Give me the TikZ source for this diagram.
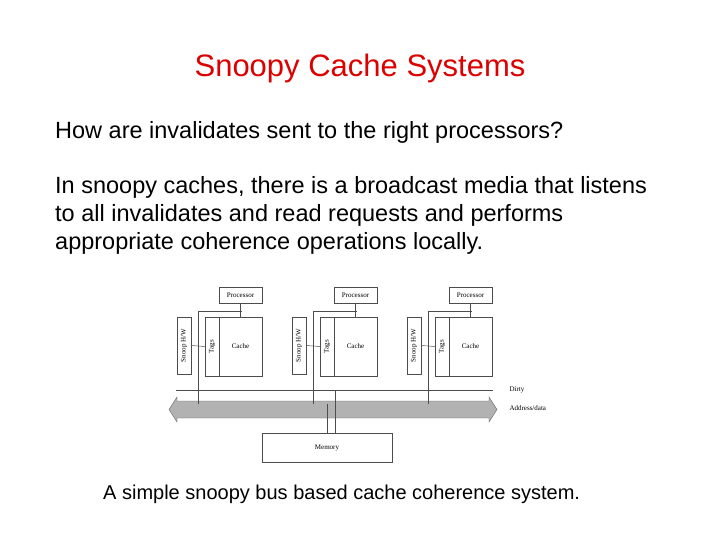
\documentclass[tikz,border=0pt]{standalone}
\usepackage{fontspec}
\setmainfont{Liberation Sans}
\newfontfamily\diag{Liberation Serif}
\usetikzlibrary{arrows.meta}
\definecolor{ttl}{RGB}{220,0,0}
\begin{document}
\begin{tikzpicture}[x=1pt,y=-1pt,
  box/.style={draw=black!70,line width=0.5pt},
  small/.style={font=\diag\fontsize{7}{8}\selectfont},
  body/.style={font=\fontsize{23.5}{28}\selectfont,anchor=west,align=left,inner sep=0},
  wire/.style={draw=black!70,line width=0.5pt}]
\useasboundingbox (0,0) rectangle (720,540);
\node[font=\fontsize{31}{34}\selectfont,text=ttl] (title) at (360,68) {Snoopy Cache Systems};
\node[body] (q) at (55,132) {How are invalidates sent to the right processors?};
\node[body,anchor=north west] (p) at (55,176) {In snoopy caches, there is a broadcast media that listens\\to all invalidates and read requests and performs\\appropriate coherence operations locally.};
% bus
\fill[black!30,draw=black!60,line width=0.4pt] (169,409.5) -- (177,397) -- (177,401) -- (489,401) -- (489,397) -- (497,409.5) -- (489,422) -- (489,418) -- (177,418) -- (177,422) -- cycle;
\coordinate (dl) at (176,390); \coordinate (dr) at (493,390);
\draw[wire] (dl) -- (dr);
\node[small,anchor=west] (dirty) at (506,390) {Dirty};
\node[small,anchor=west] (addr) at (506,408) {Address/data};
\foreach \i/\o in {1/0,2/115,3/230}{
  \node[box,small,minimum width=43,minimum height=16,inner sep=0] (proc\i) at (240.5+\o,295) {Processor};
  \node[box,minimum width=14,minimum height=57,inner sep=0] (snoop\i) at (184+\o,345.5) {};
  \node[small,rotate=90] at (snoop\i) {Snoop H/W};
  \node[box,minimum width=14,minimum height=59,inner sep=0] (tags\i) at (212+\o,346.5) {};
  \node[small,rotate=90] at (tags\i) {Tags};
  \node[box,small,minimum width=43,minimum height=59,inner sep=0] (cache\i) at (240.5+\o,346.5) {Cache};
  \draw[wire] (proc\i.south) -- (proc\i.south |- cache\i.north);
  \coordinate (j\i) at (242+\o,311);
  \coordinate (k\i) at (198+\o,311);
  \coordinate (b\i) at (198+\o,404);
  \draw[wire] (j\i) -- (k\i) -- (b\i);
  \draw[wire] (snoop\i.east) -- (tags\i.west);
}
\node[box,small,minimum width=130,minimum height=29,inner sep=0] (mem) at (327,447.5) {Memory};
\coordinate (m1) at (327,404); \coordinate (m2) at (335,390);
\draw[wire] (m1) -- (m1 |- mem.north);
\draw[wire] (m2) -- (m2 |- mem.north);
\node[font=\fontsize{20}{24}\selectfont,anchor=west,inner sep=0] (cap) at (103,494) {A simple snoopy bus based cache coherence system.};
\end{tikzpicture}
\end{document}
